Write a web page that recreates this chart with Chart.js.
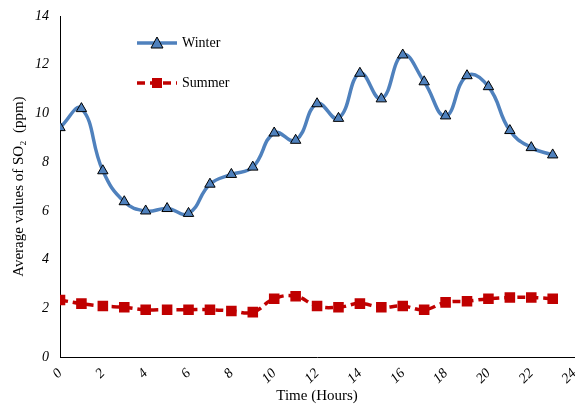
<!DOCTYPE html>
<html>
<head>
<meta charset="utf-8">
<script src="https://cdn.jsdelivr.net/npm/chart.js@4"></script>
<style>
  body { margin: 0; background: #fff; }
  #wrap { width: 586px; height: 409px; }
</style>
</head>
<body>
<div id="wrap"><canvas id="c"></canvas></div>
<script>
const hours = [0,1,2,3,4,5,6,7,8,9,10,11,12,13,14,15,16,17,18,19,20,21,22,23];
const winter = [9.42,10.2,7.65,6.38,6.0,6.1,5.9,7.1,7.5,7.8,9.2,8.9,10.4,9.8,11.65,10.6,12.4,11.3,9.9,11.55,11.1,9.3,8.6,8.3];
const summer = [2.35,2.2,2.1,2.05,1.95,1.95,1.95,1.95,1.9,1.85,2.4,2.5,2.1,2.05,2.2,2.05,2.1,1.95,2.25,2.3,2.4,2.45,2.45,2.4];

const toPts = vals => vals.map((v, i) => ({ x: hours[i], y: v }));
const font = 'Liberation Serif';

// legend drawn inside the plot area, like the original
const insideLegend = {
  id: 'insideLegend',
  afterDraw(chart) {
    const ctx = chart.ctx;
    const items = [
      { y: 43, color: '#4F81BD', dash: [], label: 'Winter', shape: 'tri' },
      { y: 83, color: '#C00000', dash: [8, 5], label: 'Summer', shape: 'sq' }
    ];
    ctx.save();
    items.forEach(it => {
      ctx.strokeStyle = it.color;
      ctx.lineWidth = 3.5;
      ctx.setLineDash(it.dash);
      ctx.beginPath();
      ctx.moveTo(137, it.y);
      ctx.lineTo(177, it.y);
      ctx.stroke();
      ctx.setLineDash([]);
      ctx.fillStyle = it.color;
      if (it.shape === 'tri') {
        ctx.beginPath();
        ctx.moveTo(157, it.y - 6);
        ctx.lineTo(163, it.y + 5);
        ctx.lineTo(151, it.y + 5);
        ctx.closePath();
        ctx.fill();
        ctx.strokeStyle = '#000';
        ctx.lineWidth = 1;
        ctx.stroke();
      } else {
        ctx.fillRect(152, it.y - 5, 10, 10);
      }
      ctx.fillStyle = '#000';
      ctx.font = '14px "' + font + '"';
      ctx.textBaseline = 'middle';
      ctx.fillText(it.label, 182, it.y);
    });
    ctx.restore();
  }
};

new Chart(document.getElementById('c'), {
  type: 'line',
  data: {
    datasets: [
      {
        label: 'Winter',
        data: toPts(winter),
        borderColor: '#4F81BD',
        borderWidth: 3.5,
        tension: 0.45,
        pointStyle: 'triangle',
        pointRadius: 6,
        pointBackgroundColor: '#4F81BD',
        pointBorderColor: '#000',
        pointBorderWidth: 1
      },
      {
        label: 'Summer',
        data: toPts(summer),
        borderColor: '#C00000',
        borderWidth: 3.5,
        borderDash: [8, 5],
        tension: 0.45,
        pointStyle: 'rect',
        pointRadius: 5,
        pointBackgroundColor: '#C00000',
        pointBorderColor: '#C00000'
      }
    ]
  },
  options: {
    responsive: true,
    maintainAspectRatio: false,
    animation: false,
    layout: { padding: { top: 16, right: 6, left: 6, bottom: 4 } },
    plugins: { legend: { display: false }, tooltip: { enabled: false } },
    scales: {
      x: {
        type: 'linear',
        min: 0, max: 24,
        ticks: { stepSize: 2, maxRotation: 45, minRotation: 45, padding: 0, color: '#000',
                 font: { family: font, size: 14, style: 'italic' } },
        grid: { display: false, drawTicks: true },
        border: { color: '#000' },
        title: { display: true, text: 'Time (Hours)', color: '#000', font: { family: font, size: 15 }, padding: { top: 0, bottom: 0 } }
      },
      y: {
        min: 0, max: 14,
        ticks: { stepSize: 2, color: '#000', font: { family: font, size: 14, style: 'italic' } },
        grid: { display: false },
        border: { color: '#000' },
        title: { display: true, text: 'Average values of SO₂  (ppm)', color: '#000', font: { family: font, size: 15 } }
      }
    }
  },
  plugins: [insideLegend]
});
</script>
</body>
</html>
